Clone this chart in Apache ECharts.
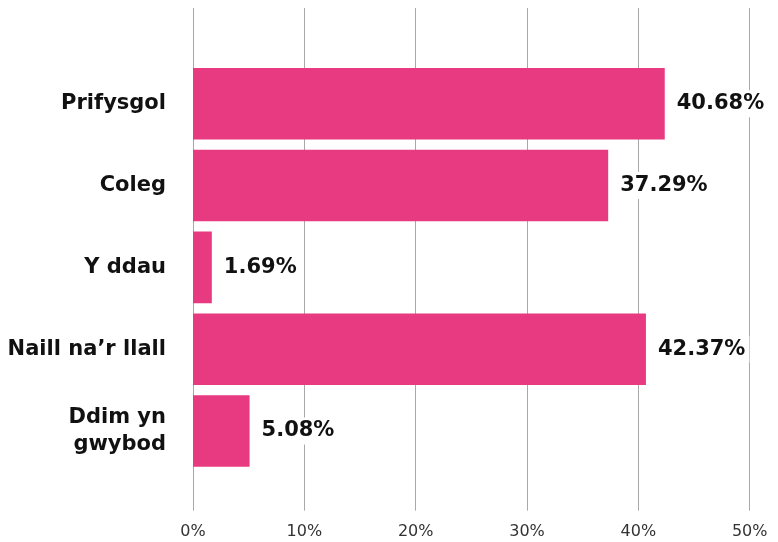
<!DOCTYPE html>
<html>
<head>
<meta charset="utf-8">
<script src="https://cdn.jsdelivr.net/npm/echarts@6/dist/echarts.min.js"></script>
<style>
html,body{margin:0;padding:0;background:#fff;}
#chart{width:778px;height:542px;}
</style>
</head>
<body>
<div id="chart"></div>
<script>
var categories = ['Prifysgol', 'Coleg', 'Y ddau', 'Naill na’r llall', 'Ddim yn\ngwybod'];
var barValues = [42.37, 37.29, 1.69, 40.68, 5.08];
var valueLabels = ['40.68%', '37.29%', '1.69%', '42.37%', '5.08%'];
var axisMin = 0, axisMax = 50, axisStep = 10;

var FONT = '"DejaVu Sans"';
var chart = echarts.init(document.getElementById('chart'), null, {renderer: 'canvas'});
chart.setOption({
  animation: false,
  backgroundColor: '#ffffff',
  grid: [
    {left: 193, right: 28.3, top: 8, bottom: 31.3, containLabel: false},
    {left: 193, right: 28.3, top: 62.85, bottom: 70.1, containLabel: false}
  ],
  xAxis: [
    {
      gridIndex: 0, type: 'value', min: axisMin, max: axisMax, interval: axisStep,
      axisLine: {show: false}, axisTick: {show: false},
      splitLine: {show: true, lineStyle: {color: '#a8a8a8', width: 1}},
      axisLabel: {
        formatter: function (v) { return v + '%'; },
        color: '#333', fontFamily: FONT, fontSize: 16, margin: 13
      }
    },
    {
      gridIndex: 1, type: 'value', min: axisMin, max: axisMax, interval: axisStep,
      show: false
    }
  ],
  yAxis: [
    {gridIndex: 0, type: 'value', show: false},
    {
      gridIndex: 1, type: 'category', data: categories, inverse: true,
      axisLine: {show: false}, axisTick: {show: false}, splitLine: {show: false},
      axisLabel: {
        color: '#111', fontFamily: FONT, fontSize: 21, fontWeight: 'bold',
        margin: 27, lineHeight: 27, align: 'right'
      }
    }
  ],
  series: [{
    type: 'bar',
    xAxisIndex: 1, yAxisIndex: 1,
    data: barValues,
    barCategoryGap: '12.6%',
    itemStyle: {color: '#E83A80'},
    label: {
      show: true, position: 'right', distance: 8,
      formatter: function (p) { return valueLabels[p.dataIndex]; },
      color: '#111', fontFamily: FONT, fontSize: 21, fontWeight: 'bold',
      backgroundColor: '#ffffff', padding: [3, 4, 3, 4]
    }
  }]
});
</script>
</body>
</html>
